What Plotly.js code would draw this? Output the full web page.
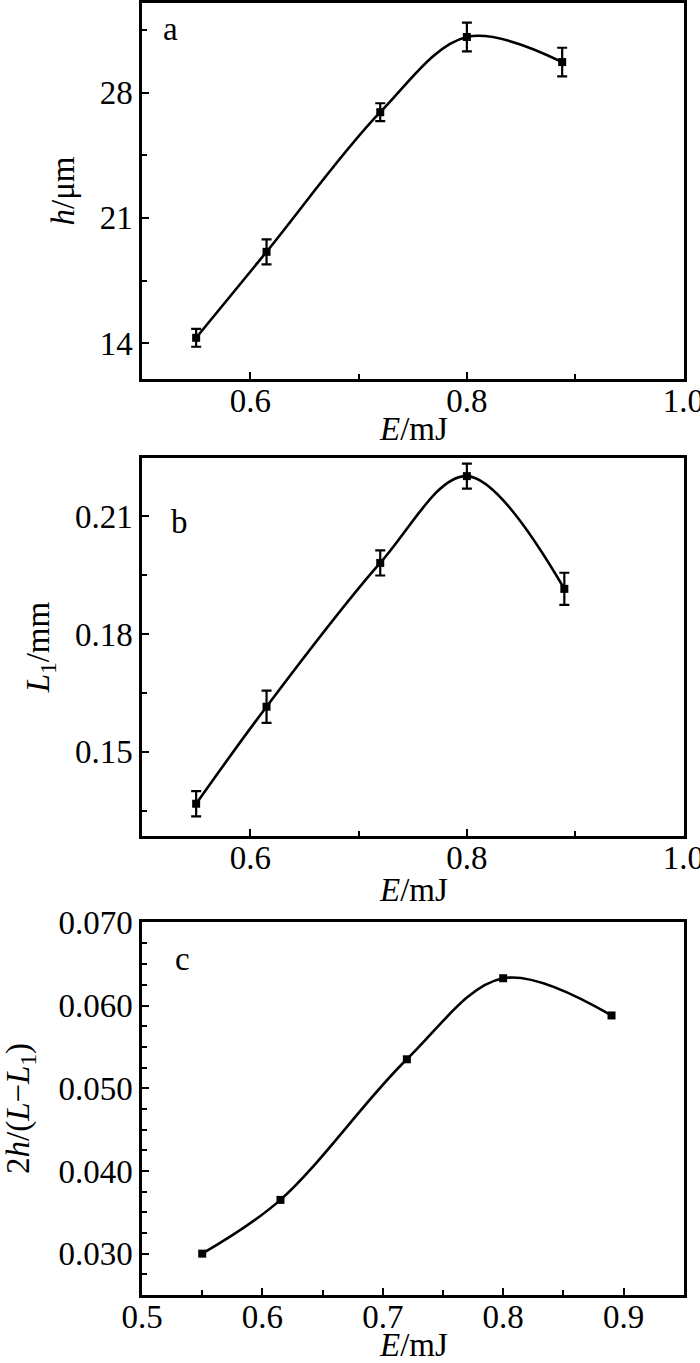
<!DOCTYPE html>
<html>
<head>
<meta charset="utf-8">
<script src="https://cdn.plot.ly/plotly-3.0.1.min.js"></script>
<style>
html,body{margin:0;padding:0;background:#fff;}
#chart{width:700px;height:1363px;}
</style>
</head>
<body>
<div id="chart"></div>
<script>
// Panel a: ablation depth h vs pulse energy E
const E_a = [0.55, 0.615, 0.72, 0.80, 0.888];
const h_um = [14.3, 19.1, 26.9, 31.1, 29.7];
const h_err = [0.5, 0.7, 0.5, 0.8, 0.8];

// Panel b: L1 vs E
const E_b = [0.55, 0.615, 0.72, 0.80, 0.89];
const L1_mm = [0.1368, 0.1615, 0.1981, 0.2202, 0.1915];
const L1_err = [0.0032, 0.0041, 0.0032, 0.0032, 0.0041];

// Panel c: 2h/(L-L1) vs E
const E_c = [0.55, 0.615, 0.72, 0.80, 0.89];
const ratio = [0.0300, 0.0365, 0.0535, 0.0633, 0.0588];

const panelLabels = ['a', 'b', 'c'];
const xTitle = '<i>E</i>/mJ';
const yTitles = ['<i>h</i>/μm', '<i>L</i><sub>1</sub>/mm', '2<i>h</i>/(<i>L</i>−<i>L</i><sub>1</sub>)'];

const FONT = 'Liberation Serif, Times New Roman, Times, serif';
const FS = 33;

function trace(x, y, err, xa, ya) {
  const t = {
    x: x, y: y, xaxis: xa, yaxis: ya,
    type: 'scatter', mode: 'lines+markers',
    line: {shape: 'spline', smoothing: 1, color: '#000', width: 2.6},
    marker: {symbol: 'square', size: 8, color: '#000'},
    showlegend: false, hoverinfo: 'skip'
  };
  if (err) {
    t.error_y = {type: 'data', array: err, visible: true, color: '#000', thickness: 2.2, width: 5};
  }
  return t;
}

const data = [
  trace(E_a, h_um, h_err, 'x', 'y'),
  trace(E_b, L1_mm, L1_err, 'x2', 'y2'),
  trace(E_c, ratio, null, 'x3', 'y3')
];

function xax(anchor, range, tick0, dtick, minordt, fmt) {
  return {
    anchor: anchor, domain: [0, 1], range: range,
    tick0: tick0, dtick: dtick, tickformat: fmt,
    ticks: 'inside', ticklen: 7, tickwidth: 2, tickcolor: '#000',
    minor: {ticks: 'inside', ticklen: 5, tickwidth: 2, tickcolor: '#000', dtick: minordt, tick0: tick0},
    showline: true, linecolor: '#000', linewidth: 2.6, mirror: true,
    showgrid: false, zeroline: false,
    ticklabeloverflow: 'allow', ticklabelstandoff: -9,
    tickfont: {family: FONT, size: FS, color: '#000'}
  };
}
function yax(anchor, domain, range, tick0, dtick, minordt, fmt, title, standoff) {
  return {
    anchor: anchor, domain: domain, range: range,
    tick0: tick0, dtick: dtick, tickformat: fmt,
    ticks: 'inside', ticklen: 7, tickwidth: 2, tickcolor: '#000',
    minor: {ticks: 'inside', ticklen: 5, tickwidth: 2, tickcolor: '#000', dtick: minordt, tick0: tick0},
    showline: true, linecolor: '#000', linewidth: 2.6, mirror: true,
    showgrid: false, zeroline: false,
    ticklabeloverflow: 'allow',
    tickfont: {family: FONT, size: FS, color: '#000'},
    title: {text: title, font: {family: FONT, size: FS, color: '#000'}, standoff: standoff}
  };
}

function xTitleAnn(yref, shift) {
  return {text: xTitle, xref: 'paper', yref: yref, x: 0.5, y: 0, yanchor: 'top', xanchor: 'center',
          yshift: shift, showarrow: false, font: {family: FONT, size: FS, color: '#000'}};
}
function label(i, xr, yr, x, y) {
  return {text: panelLabels[i], xref: xr, yref: yr, x: x, y: y, showarrow: false,
          xanchor: 'center', yanchor: 'middle', font: {family: FONT, size: FS, color: '#000'}};
}

const layout = {
  width: 700, height: 1363,
  margin: {l: 142, r: 16, t: 3, b: 68},
  paper_bgcolor: '#fff', plot_bgcolor: '#fff',
  font: {family: FONT, size: FS, color: '#000'},
  showlegend: false,
  xaxis: xax('y', [0.5, 1.0005], 0.6, 0.2, 0.1, '.1f'),
  yaxis: yax('x', [0.709, 1], [12, 33], 14, 7, 3.5, 'd', yTitles[0], 16),
  xaxis2: xax('y2', [0.5, 1.0005], 0.6, 0.2, 0.1, '.1f'),
  yaxis2: yax('x2', [0.3553, 0.6478], [0.1286, 0.2248], 0.15, 0.03, 0.015, '.2f', yTitles[1], 16),
  xaxis3: xax('y3', [0.5, 0.9502], 0.5, 0.1, 0.05, '.1f'),
  yaxis3: yax('x3', [0, 0.2887], [0.025, 0.0701], 0.03, 0.01, 0.0025, '.3f', yTitles[2], 26),
  annotations: [
    xTitleAnn('y domain', -30),
    xTitleAnn('y2 domain', -34),
    xTitleAnn('y3 domain', -30),
    label(0, 'x domain', 'y domain', 0.052, 0.93),
    label(1, 'x2 domain', 'y2 domain', 0.07, 0.83),
    label(2, 'x3 domain', 'y3 domain', 0.074, 0.9)
  ]
};

Plotly.newPlot('chart', data, layout, {staticPlot: true, displayModeBar: false});
</script>
</body>
</html>
